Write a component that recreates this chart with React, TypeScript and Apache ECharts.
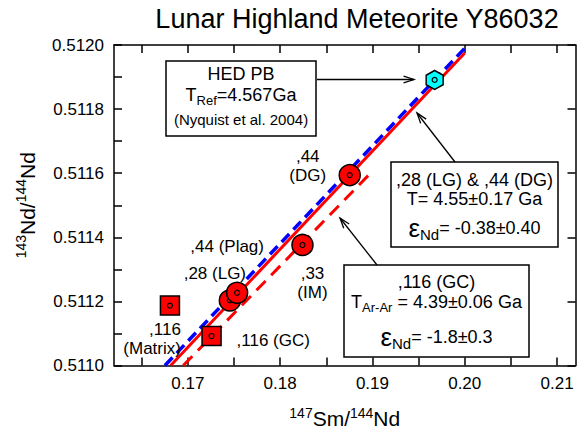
import React, { useEffect, useRef } from "react";
import * as echarts from "echarts";

const FONT = "'Liberation Sans', Arial, Helvetica, sans-serif";

// Axis ranges and ticks
const X_MIN = 0.162;
const X_MAX = 0.212;
const Y_MIN = 0.511;
const Y_MAX = 0.512;
const xLabelValues = [0.17, 0.18, 0.19, 0.2, 0.21];
const xTickValues = [0.165, 0.17, 0.175, 0.18, 0.185, 0.19, 0.195, 0.2, 0.205, 0.21];
const yLabelValues = [0.511, 0.5112, 0.5114, 0.5116, 0.5118, 0.512];
const yTickValues = [0.511, 0.5111, 0.5112, 0.5113, 0.5114, 0.5115, 0.5116, 0.5117, 0.5118, 0.5119, 0.512];
const yRightTickValues = [0.511, 0.5112, 0.5114, 0.5116, 0.5118, 0.512];

// Samples
const sampleNames = [",116\n(Matrix)", ",116 (GC)", ",28 (LG)", ",44 (Plag)", ",33\n(IM)", ",44\n(DG)"];
const sampleX = [0.16806, 0.17257, 0.17455, 0.17534, 0.18242, 0.18754];
const sampleY = [0.511187, 0.511092, 0.511203, 0.511227, 0.511376, 0.511594];
const sampleShape = ["rect", "rect", "circle", "circle", "circle", "circle"];

// HED parent body reference point
const hedX = [0.19674];
const hedY = [0.511891];

// Isochron end points
const refIsoX = [0.16752, 0.2];
const refIsoY = [0.511, 0.51199];
const lgDgIsoX = [0.16814, 0.2];
const lgDgIsoY = [0.511, 0.511975];
const gcIsoX = [0.1695, 0.18989];
const gcIsoY = [0.511, 0.511603];

// label placement (styling)
const labelStyle: Record<string, { align: string; offset: number[] }> = {
  ",116\n(Matrix)": { align: "right", offset: [11, 33] },
  ",116 (GC)": { align: "left", offset: [25, 4] },
  ",28 (LG)": { align: "center", offset: [-15, -27] },
  ",44 (Plag)": { align: "center", offset: [-10, -46] },
  ",33\n(IM)": { align: "center", offset: [10, 38] },
  ",44\n(DG)": { align: "center", offset: [-42, -9] },
};

const zip = (xs: number[], ys: number[]) => xs.map((x, i) => [x, ys[i]]);

const hexPath = "path://M0,-10L8.66,-5L8.66,5L0,10L-8.66,5L-8.66,-5Z";

const rich = {
  m: { fontSize: 18, fontFamily: FONT, lineHeight: 24, fill: "#000", color: "#000" },
  s: { fontSize: 13, fontFamily: FONT, lineHeight: 13, verticalAlign: "bottom", fill: "#000", color: "#000" },
  e: { fontSize: 26, fontFamily: FONT, lineHeight: 28, fill: "#000", color: "#000" },
  es: { fontSize: 15, fontFamily: FONT, lineHeight: 15, verticalAlign: "bottom", fill: "#000", color: "#000" },
};

function txt(x: number, y: number, text: string) {
  return {
    type: "text",
    x,
    y,
    z: 101,
    style: {
      text,
      rich,
      align: "center",
      verticalAlign: "middle",
      textAlign: "center",
      textVerticalAlign: "middle",
      fill: "#000",
      fontFamily: FONT,
      fontSize: 18,
    },
  };
}

function box(x: number, y: number, w: number, h: number) {
  return {
    type: "rect",
    z: 100,
    shape: { x, y, width: w, height: h },
    style: { fill: "#fff", stroke: "#000", lineWidth: 1.5 },
  };
}

function arrow(x1: number, y1: number, x2: number, y2: number) {
  const ang = Math.atan2(y2 - y1, x2 - x1);
  const len = 11;
  const spread = 0.32;
  const a1 = [x2 - len * Math.cos(ang - spread), y2 - len * Math.sin(ang - spread)];
  const a2 = [x2 - len * Math.cos(ang + spread), y2 - len * Math.sin(ang + spread)];
  return [
    {
      type: "line",
      z: 100,
      shape: { x1, y1, x2, y2 },
      style: { stroke: "#000", lineWidth: 1.3 },
    },
    {
      type: "polyline",
      z: 100,
      shape: { points: [a1, [x2, y2], a2] },
      style: { stroke: "#000", lineWidth: 1.3, fill: null },
    },
  ];
}

export default function App() {
  const ref = useRef<HTMLDivElement>(null);

  useEffect(() => {
    if (!ref.current) return;
    const chart = echarts.init(ref.current, undefined, { renderer: "svg" });

    const axisLine = { show: true, onZero: false, lineStyle: { color: "#000", width: 1.5 } };

    const series: any[] = [
      {
        type: "line",
        data: zip(refIsoX, refIsoY),
        showSymbol: false,
        symbol: "none",
        z: 2,
        lineStyle: { color: "#0000ff", width: 3.5, type: [11, 6] },
        silent: true,
      },
      {
        type: "line",
        data: zip(lgDgIsoX, lgDgIsoY),
        showSymbol: false,
        symbol: "none",
        z: 3,
        lineStyle: { color: "#ff0000", width: 3 },
        silent: true,
      },
      {
        type: "line",
        data: zip(gcIsoX, gcIsoY),
        showSymbol: false,
        symbol: "none",
        z: 3,
        lineStyle: { color: "#ff0000", width: 3, type: [13, 8] },
        silent: true,
      },
    ];

    sampleNames.forEach((name, i) => {
      const ls = labelStyle[name];
      series.push({
        type: "scatter",
        name,
        data: [[sampleX[i], sampleY[i]]],
        symbol: sampleShape[i],
        symbolSize: sampleShape[i] === "rect" ? 19 : 21,
        z: 10 + 2 * i,
        itemStyle: { color: "#ff0000", borderColor: "#000", borderWidth: 1.5, opacity: 1 },
        label: {
          show: true,
          formatter: name,
          position: "inside",
          offset: ls.offset,
          align: ls.align,
          verticalAlign: "middle",
          fontSize: 17,
          lineHeight: 19,
          color: "#000",
          fontFamily: FONT,
          textBorderWidth: 0,
        },
      });
      series.push({
        type: "scatter",
        data: [[sampleX[i], sampleY[i]]],
        symbol: "circle",
        symbolSize: 5,
        z: 11 + 2 * i,
        itemStyle: { color: "#ff0000", borderColor: "#000", borderWidth: 1.2, opacity: 1 },
      });
    });

    series.push({
      type: "scatter",
      name: "HED PB",
      data: zip(hedX, hedY),
      symbol: hexPath,
      symbolSize: [17, 19],
      z: 30,
      itemStyle: { color: "#00ffff", borderColor: "#000", borderWidth: 1.5, opacity: 1 },
    });
    series.push({
      type: "scatter",
      data: zip(hedX, hedY),
      symbol: "circle",
      symbolSize: 5,
      z: 31,
      itemStyle: { color: "#00ffff", borderColor: "#000", borderWidth: 1.2, opacity: 1 },
    });

    const graphic: any[] = [
      {
        type: "text",
        x: 357,
        y: 19,
        style: {
          text: "Lunar Highland Meteorite Y86032",
          fontFamily: FONT,
          fontSize: 27,
          fill: "#000",
          align: "center",
          verticalAlign: "middle",
          textAlign: "center",
          textVerticalAlign: "middle",
        },
      },
      box(166, 61, 150, 75),
      txt(241, 74, "{m|HED PB}"),
      txt(241, 95, "{m|T}{s|Ref}{m|=4.567Ga}"),
      {
        type: "text",
        x: 241,
        y: 119,
        z: 101,
        style: {
          text: "(Nyquist et al. 2004)",
          fontFamily: FONT,
          fontSize: 15,
          fill: "#000",
          align: "center",
          verticalAlign: "middle",
          textAlign: "center",
          textVerticalAlign: "middle",
        },
      },
      ...arrow(317, 79.5, 414, 79.5),
      box(391, 162, 167, 85),
      txt(474.5, 180, "{m|,28 (LG) & ,44 (DG)}"),
      txt(474.5, 199, "{m|T= 4.55±0.17 Ga}"),
      txt(474.5, 228, "{e|ε}{es|Nd}{m|= -0.38±0.40}"),
      ...arrow(455, 162, 417, 113),
      box(344, 265, 185, 92),
      txt(436.5, 282, "{m|,116 (GC)}"),
      txt(436.5, 302, "{m|T}{s|Ar-Ar}{m| = 4.39±0.06 Ga}"),
      txt(436.5, 337, "{e|ε}{es|Nd}{m|= -1.8±0.3}"),
      ...arrow(377, 265, 340, 218),
    ];

    chart.setOption({
      animation: false,
      backgroundColor: "#fff",
      textStyle: { fontFamily: FONT },
      grid: { left: 114, right: 1.5, top: 45, bottom: 67, containLabel: false },
      xAxis: [
        {
          type: "value",
          min: X_MIN,
          max: X_MAX,
          position: "bottom",
          axisLine,
          axisTick: { show: true, inside: true, length: 8, customValues: xTickValues, lineStyle: { color: "#000", width: 1.5 } },
          axisLabel: {
            customValues: xLabelValues,
            formatter: (v: number) => v.toFixed(2),
            fontSize: 17,
            color: "#000",
            margin: 9,
            fontFamily: FONT,
          },
          splitLine: { show: false },
          name: "{sup|147}{m|Sm/}{sup|144}{m|Nd}",
          nameLocation: "middle",
          nameGap: 40,
          nameTextStyle: {
            color: "#000",
            fontFamily: FONT,
            rich: {
              m: { fontSize: 21, lineHeight: 26, fontFamily: FONT, color: "#000" },
              sup: { fontSize: 14, lineHeight: 14, verticalAlign: "top", fontFamily: FONT, color: "#000" },
            },
          },
        },
        {
          type: "value",
          min: X_MIN,
          max: X_MAX,
          position: "top",
          axisLine,
          axisTick: { show: true, inside: true, length: 8, customValues: xTickValues, lineStyle: { color: "#000", width: 1.5 } },
          axisLabel: { show: false },
          splitLine: { show: false },
        },
      ],
      yAxis: [
        {
          type: "value",
          min: Y_MIN,
          max: Y_MAX,
          position: "left",
          axisLine,
          axisTick: { show: true, inside: true, length: 8, customValues: yTickValues, lineStyle: { color: "#000", width: 1.5 } },
          axisLabel: {
            customValues: yLabelValues,
            formatter: (v: number) => v.toFixed(4),
            fontSize: 17,
            color: "#000",
            margin: 10,
            fontFamily: FONT,
          },
          splitLine: { show: false },
          name: "{sup|143}{m|Nd/}{sup|144}{m|Nd}",
          nameLocation: "middle",
          nameRotate: 90,
          nameGap: 74,
          nameTextStyle: {
            color: "#000",
            fontFamily: FONT,
            rich: {
              m: { fontSize: 21, lineHeight: 26, fontFamily: FONT, color: "#000" },
              sup: { fontSize: 14, lineHeight: 14, verticalAlign: "top", fontFamily: FONT, color: "#000" },
            },
          },
        },
        {
          type: "value",
          min: Y_MIN,
          max: Y_MAX,
          position: "right",
          axisLine,
          axisTick: { show: true, inside: true, length: 8, customValues: yRightTickValues, lineStyle: { color: "#000", width: 1.5 } },
          axisLabel: { show: false },
          splitLine: { show: false },
        },
      ],
      series,
      graphic,
    });

    return () => chart.dispose();
  }, []);

  return (
    <div
      ref={ref}
      style={{ position: "absolute", left: 0, top: 0, width: 577, height: 434, overflow: "hidden" }}
    />
  );
}
